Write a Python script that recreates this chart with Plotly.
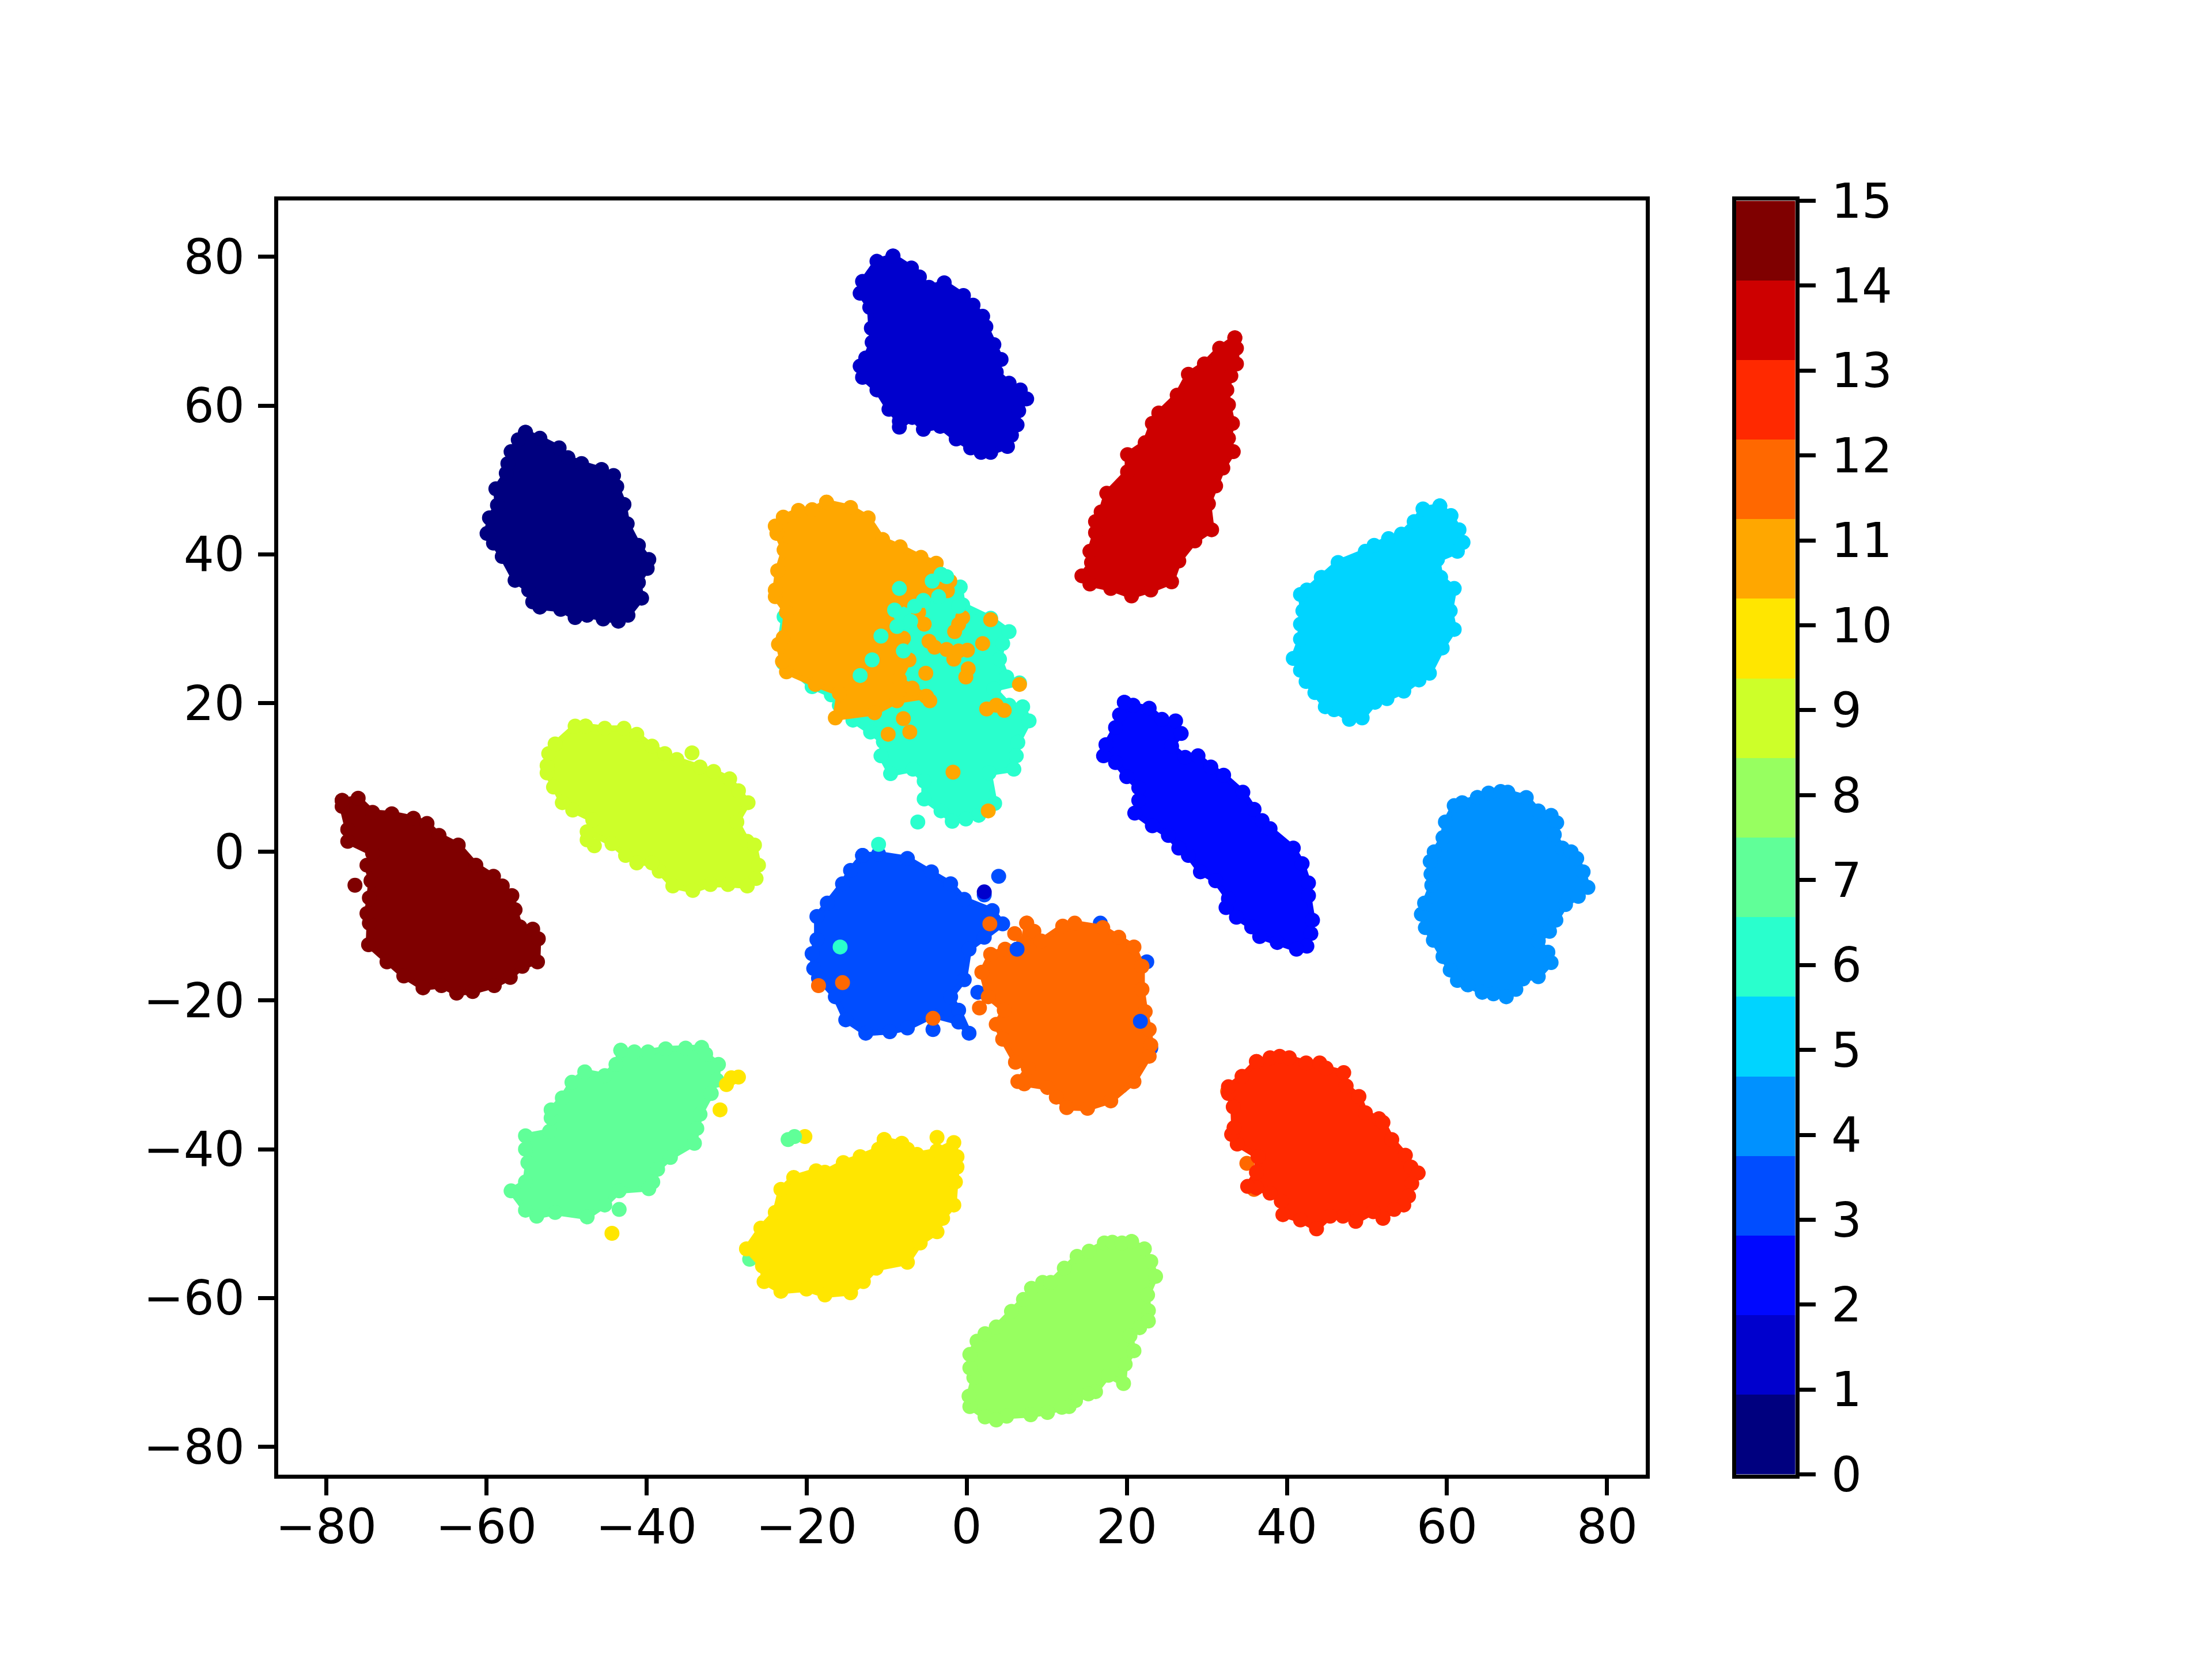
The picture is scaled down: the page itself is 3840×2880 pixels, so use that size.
import plotly.graph_objects as go

# colours of the 16 classes
colors = ["#00007f", "#0000cd", "#0008ff", "#004dff", "#0091ff", "#00d4ff", "#29ffcd", "#60ff98",
          "#97ff60", "#cdff29", "#ffe600", "#ffa700", "#ff6800", "#ff2900", "#cd0000", "#7f0000"]

# edge points of each cluster, plus stray points
x0 = [-55.1, -53.3, -50.9, -49.8, -48.1, -45.6, -44.1, -43.7, -42.8, -42.4, -41, -39.7, -39.9, -41, -40.6, -42.3,
      -43.5, -45.4, -47.4, -48.9, -50.7, -53.3, -54.2, -54.7, -56.4, -58, -59.1, -59.9, -59.6, -58.6, -58.8, -57.5,
      -57.3, -56.9, -56]
y0 = [56.4, 55.6, 54.3, 53, 52.2, 51.4, 50.6, 49.1, 46.7, 44.1, 41.2, 39.3, 38.1, 36.2, 34.1, 31.8,
      31, 31.3, 31.8, 31.5, 32.6, 32.9, 33.6, 35.2, 36.5, 39.7, 41.5, 42.8, 44.9, 46.6, 48.8, 50.9,
      52.2, 53.8, 55.4]

x1 = [-9.2, -6.9, -5.9, -4.7, -2.8, -0.4, 0.8, 2, 2.4, 3.4, 4.3, 3.7, 5.3, 6.7, 7.5, 6.5, 6.3, 5.6, 5.1, 3, 1.8,
      0.5, -1.3, -3.3, -5.4, -6.8, -8.4, -8.4, -9.7, -11.2, -13, -13.3, -12.6, -11.8, -11.9, -12.1, -13.3, -13, -11.2]
y1 = [80.1, 78.5, 77.3, 75.9, 76.5, 74.8, 73.5, 72, 70.6, 68.2, 66.2, 64.5, 63, 62.1, 60.9, 59.3, 57.4, 56, 54.5, 53.7,
      53.7, 54.3, 55.5, 57.2, 56.8, 58.4, 57.1, 57.9, 59.5, 62.1, 63.8, 65.3, 66.4, 68.5, 70.4, 73.2, 75.1, 76.7, 79.4]

x2 = [19.7, 20.8, 22.8, 24.4, 26.1, 26.8, 25.6, 27.3, 28.9, 30.5, 32.1, 34.5, 35.9, 36.9, 37.9, 40.8, 41.9, 42.7, 42.7,
      43.2, 43, 42.5, 41.2, 38.8, 36.6, 35.6, 33.7, 32.4, 32.7, 31.1, 29.2, 27.7, 26.5, 25.2, 23.2, 21, 21.5, 21.5, 20,
      18.6, 17.1, 17.4, 18.6, 19.1]
y2 = [20.1, 19.7, 19.3, 17.8, 17.6, 15.9, 14.2, 12.7, 12.9, 11.4, 10.3, 8, 5.7, 4.2, 3.1, 0.5, -1.6, -4.2, -5.9,
      -9.2, -11, -12.7, -13.1, -12.2, -11.4, -10.1, -8.8, -7.5, -6.3, -3.9, -2.7, -0.5, 0.5, 2.2, 3.5, 5.2, 6.9, 8.6, 10.1,
      12, 12.9, 14.4, 16.7, 18.4]

x3 = [-13, -11, -7.4, -4.4, -2, -0.3, 3.2, 4.5, 2.2, 0.3, -0.3, -2, -1, 0.3, -1, -4.2, -7.4, -9.6, -12.6,
      -15.1, -16.4, -18.5, -19.1, -19.3, -18.7, -18.7, -17.4, -15.5, -14.5]
y3 = [-0.5, -0.3, -0.9, -2.7, -4.3, -6.4, -7.9, -9.7, -11.5, -13.1, -17.2, -19.5, -21.3, -24.4, -22.9, -22, -23.7,
      -24.2, -24.4, -22.6, -19.5, -17, -15.7, -13.7, -11.8, -8.7, -6.9, -4.3, -2.5]
x3_extra = [4, 2.2, -4.2, 6.3, 1.4, 16.7, 22.5, 23, 19.3]
y3_extra = [-3.3, -5.8, -23.9, -13.1, -18.9, -9.6, -14.8, -26.4, -31.5]
x3_front = [6.3, 21.7]
y3_front = [-13.1, -22.8]

x4 = [63.8, 65.2, 66.7, 67.6, 69.9, 71.4, 73, 73.7, 73.4, 74.4, 75.5, 76.2, 77, 77.6, 76.4, 74.8, 73.6, 72.8, 71.4, 72.6,
      73, 71.4, 69.5, 68.6, 67.4, 65.8, 64.4, 62.6, 61.3, 60.4, 59.5, 58.3, 57.3, 56.8, 57.2, 58.1, 58, 57.9, 58.4, 59.5,
      59.8, 60.9, 61.9]
y4 = [7.3, 7.9, 8.1, 8, 7.3, 5.5, 4.9, 3.9, 2.3, 0.5, 0, -0.9, -2.7, -4.8, -6, -7.1, -9.2, -10.7, -12, -13.5,
      -14.9, -16.8, -17.1, -18.5, -19.5, -19.1, -18.9, -17.9, -17.3, -15.9, -14.1, -11.9, -10.2, -8.4, -6.9, -4.5, -3, -1.3,
      0, 1.9, 4, 6.2, 6.6]

x5 = [59.1, 60.5, 61.5, 62, 61.3, 58.8, 59.2, 60.9, 60.4, 60.9, 59.4, 57.8, 56.5, 54.6, 52.5, 51, 49.4, 47.8, 45.9, 44.8,
      43.5, 42.4, 41.7, 40.8, 41.7, 41.7, 42, 41.7, 42.5, 44.3, 46.4, 49.8, 50.9, 52.7, 54.3, 55.9, 57]
y5 = [46.5, 45.2, 43.3, 41.6, 40.4, 39.3, 36.9, 35.4, 32.4, 29.9, 27.4, 24, 23.1, 21.6, 20.6, 20.1, 18, 17.8, 19.1, 19.5,
      21.4, 22.9, 24.4, 26, 28.6, 30.6, 32.4, 34.6, 35.2, 36.9, 38.9, 40.4, 41.2, 42.1, 42.7, 44.4, 46.1]

x6 = [-3.2, -0.8, -0.5, 3, 5.3, 4.5, 4.1, 5, 6.6, 3.4, 5.3, 7, 7.8, 6.4, 6.2, 5.9, 2.8, 3.5, 1.5, -0.1, -1.8,
      -3.2, -5.3, -5.3, -6.7, -9.5, -10.7, -10.4, -12, -14.2, -15.9, -16.9, -19.3, -22.9, -23.3, -22.8, -15, -12.5]
y6 = [37.3, 35.6, 33.2, 31.4, 29.6, 28, 25.9, 23.5, 22.7, 21.9, 19.7, 19.5, 17.6, 14.7, 12.9, 11.1, 10.6, 6.5, 4.9,
      4.4, 4.1, 5.5, 7.1, 9.5, 11.1, 10.5, 12.9, 14.8, 16.1, 17.7, 19.7, 21.1, 22.2, 25.4, 28, 31.6, 40, 43]
x6_front = [-3.2, -4.3, -8.4, -9, -8.7, -10.7, -7.9, -11.8, -13.3, -3.5, -5.4, -6.1, -11, -15.8, -2.5, -1, -6.5, -7]
y6_front = [37.3, 36.4, 35.4, 32.5, 30.3, 29, 27, 25.8, 23.7, 34.3, 33.8, 4, 1, -12.8, 37, 33, 33, 31]

x7 = [-43.2, -41.5, -39.8, -37.6, -35.1, -33.1, -32.6, -31, -31.2, -31.9, -33.3, -33.7, -34, -37, -38.6, -39.2, -39.7,
      -43.4, -45.2, -47.4, -51.4, -53.7, -55.1, -56.9, -55.1, -54.8, -55.1, -55.1, -52.1, -51.9, -51.9, -50.5, -49.3,
      -47.7, -45.2, -43.8]
y7 = [-26.7, -26.9, -26.9, -26.5, -26.4, -26.3, -27.2, -28.6, -30.7, -32.5, -35.3, -37.2, -39.2, -41.1, -42.7, -44.4, -45.3,
      -45.6, -47.5, -49.1, -48.5, -49, -48.2, -45.6, -44.4, -41.8, -40, -38.2, -37.6, -35.8, -34.7, -33.1, -31,
      -29.6, -30.1, -28.6]
x7_extra = [-22.3, -43.4, -27.1]
y7_extra = [-38.7, -48.1, -54.8]
x7_late = [-21.5]
y7_late = [-38.3]

x8 = [20.6, 22.2, 23, 23.6, 22.6, 22.7, 22.7, 21.6, 20.4, 20.9, 19.8, 19.6, 17.7, 16.1, 15.2, 13.6, 12.8, 11.9, 10.1, 8, 5,
      3.7, 2.3, 0.4, 0.3, 0.9, 0.4, 0.4, 1.3, 2.3, 3.7, 5.6, 7.1, 8.1, 9.5, 10.5, 12.2, 13.8, 15.3, 17.2, 18.2, 19.4]
y8 = [-52.4, -53.4, -55.1, -57.1, -59.6, -61.7, -63.1, -64, -65.1, -67.1, -68.9, -71.5, -70.4, -72.6, -72.9, -73.8, -74.6,
      -74.7, -75.4, -75.7, -75.9, -76.4, -76, -74.6, -73.2, -70.7, -69.4, -67.6, -65.8, -64.8, -63.9, -61.8, -60.2, -58.7,
      -57.9, -57.9, -56, -54.4, -53.7, -52.6, -52.5, -52.6]

x9 = [-47.6, -45.2, -42.8, -41.2, -39.3, -37.7, -36.2, -33.3, -31.6, -29.6, -28.5, -27.3, -28.7, -27.4, -26.5, -26, -26.3,
      -27.4, -29.8, -32, -34.2, -36.7, -38.4, -39.3, -41.2, -42.6, -44.3, -47.4, -46.7, -49.2, -50.5, -51.6, -52.4, -52.4,
      -52.2, -51.4, -48.9]
y9 = [16.9, 16.6, 16.6, 15.8, 14.2, 13.2, 12.4, 11.4, 10.8, 9.8, 8.2, 6.6, 4, 1.4, 0.9, -1.8, -3.6,
      -4.6, -4.4, -4.4, -5.2, -4.6, -2.6, -1.5, -1.5, -0.5, 1.1, 2.7, 4.3, 5.6, 6.6, 8.7, 10.6, 11.6,
      13.2, 14.5, 16.9]
x9_extra = [-34.3, -46.5, -47.4]
y9_extra = [13.3, 0.8, 1.6]

x10 = [-10.3, -8.1, -7.4, -6.2, -3.7, -1.6, -1.2, -1.2, -1.4, -1.6, -3, -3.7, -5.8, -7.4, -11.3, -12.9, -14.5, -17.7, -20,
       -23.2, -25.3, -25.5, -27.5, -25.7, -23.9, -23.2, -21.6, -18.8, -17.7, -15.4, -13.3, -11]
y10 = [-38.7, -39.2, -40, -40.7, -40.2, -39.1, -41, -42.4, -44.4, -47.5, -49.3, -51.1, -52.6, -55.2, -56, -57.8, -59.3, -59.6,
       -58.8, -59.1, -57.8, -55.7, -53.4, -50.6, -48.5, -45.4, -43.8, -42.9, -43.1, -41.8, -41, -40]
x10_extra = [-29.4, -28.5, -30, -30.8, -20.2, -44.3, -3.7]
y10_extra = [-30.4, -30.3, -31.3, -34.7, -38.3, -51.3, -38.4]

x11 = [-17.5, -14.5, -12.3, -10.5, -8.3, -5.7, -3.8, -2.1, -2.4, -7.3, -9.8, -9, -7.9, -7.2, -8.4, -5.1, -8.7, -11.5,
       -16.4, -15.9, -18.9, -22.5, -23, -23.5, -22.9, -22.5, -23.9, -23.9, -23.6, -22.8, -23.7, -23.9, -22.9, -21, -19.3]
y11 = [47, 46.3, 44.9, 42, 41, 39.6, 38.8, 36.4, 35.1, 33.8, 32.2, 30.3, 28.7, 25.8, 23.2, 20.9, 20.3, 18.7,
       18, 21.3, 22.5, 24.2, 25.6, 27.9, 28.8, 32.2, 34.3, 35.2, 37.8, 40.6, 42.8, 43.8, 45, 45.9, 46]
x11_extra = [-5.3, 0.1, -1.6, 0.2, -0.1, -5, -4.6, 3.7, -1.7, -7.1, -7.9, -9.8, 2, 3, 6.6, -1, -4.7, -5.1, 4.7, 2.7,
             -0.5, -1.5, -4, -2.5, -1, -6, -6.8, 2.5]
y11_extra = [30.6, 27.1, 25.9, 24.6, 23.5, 20.9, 20.3, 19.7, 10.7, 16.1, 17.9, 15.8, 28, 31.2, 22.5, 30.6, 28.3, 24, 19, 5.5,
             31.5, 29.6, 27.5, 27.2, 27, 32.2, 22, 19.2]

x12 = [7.5, 8.4, 9.3, 12, 13.5, 17, 19, 20.9, 21.9, 21.9, 22.3, 22.8, 23, 22.8, 20.9, 18, 15.1, 12.5, 11.2, 10.1,
       7.2, 6.4, 7.7, 6.1, 4.5, 3.7, 4.7, 2.7, 1.9, 3, 4.8, 7.1]
y12 = [-9.6, -10.7, -12, -10, -9.6, -10.2, -11.5, -12.8, -15.4, -18.5, -21.5, -23.9, -26, -27.5, -30.9, -33.5, -34.5,
       -34.4, -33, -31.7, -31.2, -30.9, -29.1, -28.3, -25.2, -23.2, -21.3, -19.5, -16.2, -13.8, -13.1, -12.3]
x12_extra = [2.9, 6, 1.6, -4.2, -18.5, -15.5, 35, 32.6, 35.9]
y12_extra = [-9.7, -11, -21, -22.4, -18, -17.6, -41.9, -32.2, -45.4]

x13 = [36.2, 37.9, 39.1, 40.3, 42.4, 44.1, 44.9, 47.1, 47.4, 49, 49.8, 51.5, 52, 53.1, 54.8, 55.5, 56.4, 55.6, 55.2, 54.6,
       53.4, 52, 50.8, 48.6, 47, 45.4, 43.7, 41.7, 39.5, 39.3, 37.9, 36.2, 35.1, 36.2, 36.4, 33.8, 33.1, 33.4, 33.3, 32.7,
       32.7, 34.4]
y13 = [-28.2, -27.7, -27.5, -27.7, -28.4, -28.4, -29.1, -29.7, -31.5, -32.9, -35.1, -35.9, -36.4, -38.7, -40.8, -42.4, -43.2,
       -44.6, -46.3, -47.5, -48.1, -49.3, -48.4, -49.7, -49, -49, -50.7, -49.5, -48.8, -47, -45.9, -45.2, -45, -43.1, -41,
       -39.3, -38, -37.1, -34.3, -32.5, -31.6, -30.2]

x14 = [33.5, 33.7, 33.7, 33, 32.5, 32.7, 33.2, 32.7, 33.3, 32, 31.1, 30.2, 30.6, 28.5, 26.5, 25.6, 23, 20.6, 18, 15.4,
       14.4, 15.6, 15.4, 16.1, 16.1, 16.8, 17.5, 20.1, 20.1, 22.3, 23.2, 24, 26.3, 27.7, 29.7, 31.6]
y14 = [69.1, 67.7, 65.6, 64, 62.1, 60.1, 57.6, 55.6, 53.8, 51.6, 49.2, 46.8, 43.3, 41.8, 39.1, 36.3, 35.2, 34.4, 35.4, 36,
       37.1, 38.9, 40.4, 42.9, 44.4, 45.7, 48.2, 51.1, 53.4, 55, 57.6, 59, 61.4, 64.2, 65.6, 67.7]

x15 = [-78, -76, -74.2, -71.8, -69.1, -67.4, -65.9, -63.5, -61.3, -59.1, -58, -56.8, -56.4, -55.8, -54.2, -53.5, -53.6, -55.5,
       -57, -59, -61.7, -63.7, -65.6, -67.9, -70.3, -72.4, -74.7, -74.6, -74.9, -74.6, -74.4, -74.9, -74.2, -77.3, -77.3, -78]
y15 = [6.9, 7.2, 5.3, 5.1, 4.5, 3.8, 2.2, 0.9, -1.8, -3.3, -4.6, -5.9, -7.8, -10.1, -10.4, -11.7, -14.8, -15.4,
       -16.9, -18, -18.8, -19, -18, -18.3, -16.7, -14.8, -12.5, -9.6, -8.3, -6.2, -3.9, -1.8, -0.2, 1.4, 3, 6.1]
x15_extra = [-76.4]
y15_extra = [-4.5]

xticks = [-80, -60, -40, -20, 0, 20, 40, 60, 80]
yticks = [-80, -60, -40, -20, 0, 20, 40, 60, 80]
cbar_ticks = list(range(16))

FONT = dict(family="DejaVu Sans", size=83.3, color="black")
MS = 26


def blob(xs, ys, c):
    return go.Scatter(x=xs + xs[:1], y=ys + ys[:1], mode="lines+markers", fill="toself", fillcolor=colors[c],
                      line=dict(color=colors[c], width=10), marker=dict(color=colors[c], size=MS),
                      showlegend=False, xaxis="x", yaxis="y")


def dots(xs, ys, c):
    return go.Scatter(x=xs, y=ys, mode="markers", marker=dict(color=colors[c], size=MS), showlegend=False,
                      xaxis="x", yaxis="y")


fig = go.Figure()
fig.add_trace(blob(x0, y0, 0))
fig.add_trace(blob(x1, y1, 1))
fig.add_trace(blob(x2, y2, 2))
fig.add_trace(dots(x3_extra, y3_extra, 3))
fig.add_trace(blob(x3, y3, 3))
fig.add_trace(blob(x4, y4, 4))
fig.add_trace(blob(x5, y5, 5))
fig.add_trace(blob(x6, y6, 6))
fig.add_trace(dots(x7_extra, y7_extra, 7))
fig.add_trace(blob(x7, y7, 7))
fig.add_trace(blob(x8, y8, 8))
fig.add_trace(dots(x9_extra, y9_extra, 9))
fig.add_trace(blob(x9, y9, 9))
fig.add_trace(dots(x10_extra, y10_extra, 10))
fig.add_trace(blob(x10, y10, 10))
fig.add_trace(dots(x7_late, y7_late, 7))
fig.add_trace(blob(x11, y11, 11))
fig.add_trace(dots(x11_extra, y11_extra, 11))
fig.add_trace(dots(x6_front, y6_front, 6))
fig.add_trace(blob(x12, y12, 12))
fig.add_trace(dots(x12_extra, y12_extra, 12))
fig.add_trace(dots(x3_front, y3_front, 3))
fig.add_trace(dots([2.2], [-5.4], 1))
fig.add_trace(blob(x13, y13, 13))
fig.add_trace(blob(x14, y14, 14))
fig.add_trace(blob(x15, y15, 15))
fig.add_trace(dots(x15_extra, y15_extra, 15))

# discrete colour bar, 16 bands spread over 0..15
scale = [[i / 15, colors[i]] for i in range(16)]
fig.add_trace(go.Heatmap(z=[[i] for i in cbar_ticks], x0=0.5, dx=1, y0=15 / 32, dy=15 / 16, zmin=0, zmax=15,
                         colorscale=scale, showscale=False, hoverinfo="skip", xaxis="x2", yaxis="y2"))

axis_style = dict(showline=True, linecolor="black", linewidth=6.67, mirror=True, showgrid=False, zeroline=False,
                  ticks="outside", ticklen=29, tickwidth=6.67, tickcolor="black", tickfont=FONT, automargin=False)
fig.update_layout(
    width=3840, height=2880, autosize=False, margin=dict(l=0, r=0, t=0, b=0),
    paper_bgcolor="white", plot_bgcolor="white", showlegend=False,
    # plotly draws axis lines outside the plot area, so the domains sit a little inside the frame
    xaxis=dict(domain=[0.12587, 0.74414], range=[-85.96, 84.86], tickmode="array", tickvals=xticks,
               ticklabelstandoff=-17, anchor="y", **axis_style),
    yaxis=dict(domain=[0.1112, 0.8790], range=[-83.74, 87.54], tickmode="array", tickvals=yticks,
               ticklabelstandoff=6, anchor="x", **axis_style),
    xaxis2=dict(domain=[0.7849, 0.8116], range=[0, 1], showticklabels=False, ticks="", showline=True,
                linecolor="black", linewidth=6.67, mirror=True, showgrid=False, zeroline=False, anchor="y2",
                automargin=False),
    yaxis2=dict(domain=[0.1112, 0.8790], range=[0, 15], tickmode="array", tickvals=cbar_ticks, side="right",
                ticklabelstandoff=10, anchor="x2", **axis_style),
)

fig.write_html("out.html", post_script="document.body.style.margin='0';", config={"displayModeBar": False})
